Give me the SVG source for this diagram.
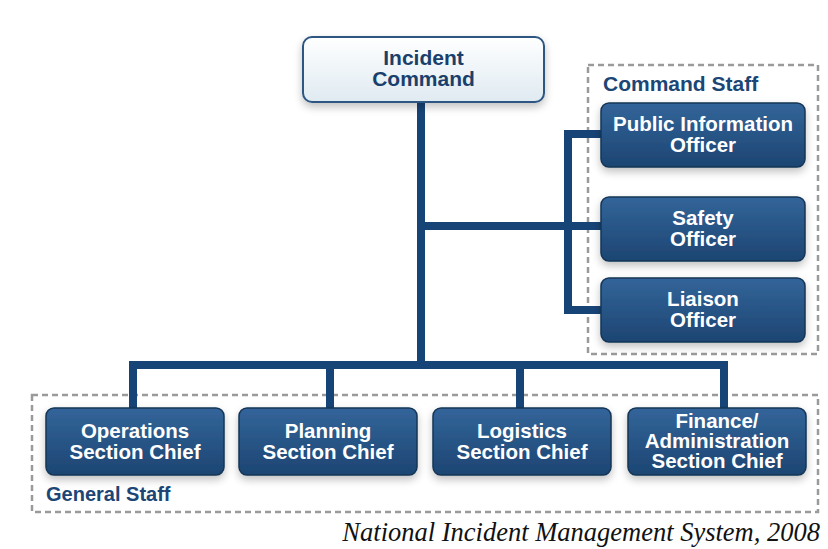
<svg xmlns="http://www.w3.org/2000/svg" width="828" height="549" viewBox="0 0 828 549">
<defs>
<linearGradient id="gBlue" x1="0" y1="0" x2="0" y2="1">
<stop offset="0" stop-color="#33659a"/>
<stop offset="1" stop-color="#1c4572"/>
</linearGradient>
<linearGradient id="gLight" x1="0" y1="0" x2="0" y2="1">
<stop offset="0" stop-color="#ffffff"/>
<stop offset="1" stop-color="#dfeaf1"/>
</linearGradient>
<filter id="sh" x="-20%" y="-20%" width="140%" height="150%">
<feGaussianBlur in="SourceAlpha" stdDeviation="4"/>
<feOffset dx="0" dy="4"/>
<feComponentTransfer><feFuncA type="linear" slope="0.25"/></feComponentTransfer>
<feMerge><feMergeNode/><feMergeNode in="SourceGraphic"/></feMerge>
</filter>
</defs>
<style>
.dark{fill:url(#gBlue);stroke:#163656;stroke-width:1.5;filter:url(#sh)}
.light{fill:url(#gLight);stroke:#2f5682;stroke-width:2;filter:url(#sh)}
.wt{font-family:"Liberation Sans",Arial,sans-serif;font-weight:bold;font-size:20.5px;fill:#ffffff;text-anchor:middle}
.bt{font-family:"Liberation Sans",Arial,sans-serif;font-weight:bold;font-size:21px;fill:#1b3f6b;text-anchor:middle}
.grp{fill:none;stroke:#9a9a9a;stroke-width:2.5;stroke-dasharray:6 4}
.gl{font-family:"Liberation Sans",Arial,sans-serif;font-weight:bold;font-size:20px;fill:#1b4676}
.conn{fill:none;stroke:#174477;stroke-width:8;stroke-linejoin:miter;stroke-linecap:butt}
</style>
<rect width="828" height="549" fill="#ffffff"/>
<g id="command-staff-group">
<rect class="grp" x="588" y="65" width="230" height="289"/>
<text class="gl" x="603" y="91" style="font-size:21px">Command Staff</text>
</g>
<g id="general-staff-group">
<rect class="grp" x="32" y="395" width="786" height="117"/>
<text class="gl" x="46" y="501">General Staff</text>
</g>
<g id="connectors">
<path class="conn" d="M421 101 V369"/>
<path class="conn" d="M421 226 H602"/>
<path class="conn" d="M602 134 H568 V310 H602"/>
<path class="conn" d="M133 408 V365 H724 V408"/>
<path class="conn" d="M330 365 V408"/>
<path class="conn" d="M520 365 V408"/>
</g>
<g id="incident-command">
<rect class="light" x="303" y="37" width="241" height="65" rx="9"/>
<text class="bt" x="423.5" y="65">Incident</text>
<text class="bt" x="423.5" y="86">Command</text>
</g>
<g id="public-information-officer">
<rect class="dark" x="601" y="103" width="204" height="64" rx="8"/>
<text class="wt" x="703" y="131">Public Information</text>
<text class="wt" x="703" y="152">Officer</text>
</g>
<g id="safety-officer">
<rect class="dark" x="601" y="197" width="204" height="64" rx="8"/>
<text class="wt" x="703" y="225">Safety</text>
<text class="wt" x="703" y="246">Officer</text>
</g>
<g id="liaison-officer">
<rect class="dark" x="601" y="278" width="204" height="64" rx="8"/>
<text class="wt" x="703" y="306">Liaison</text>
<text class="wt" x="703" y="327">Officer</text>
</g>
<g id="operations-section-chief">
<rect class="dark" x="46" y="408" width="178" height="67" rx="8"/>
<text class="wt" x="135" y="438">Operations</text>
<text class="wt" x="135" y="459">Section Chief</text>
</g>
<g id="planning-section-chief">
<rect class="dark" x="239" y="408" width="178" height="67" rx="8"/>
<text class="wt" x="328" y="438">Planning</text>
<text class="wt" x="328" y="459">Section Chief</text>
</g>
<g id="logistics-section-chief">
<rect class="dark" x="433" y="408" width="178" height="67" rx="8"/>
<text class="wt" x="522" y="438">Logistics</text>
<text class="wt" x="522" y="459">Section Chief</text>
</g>
<g id="finance-administration-section-chief">
<rect class="dark" x="628" y="408" width="178" height="67" rx="8"/>
<text class="wt" x="717" y="428">Finance/</text>
<text class="wt" x="717" y="448">Administration</text>
<text class="wt" x="717" y="468">Section Chief</text>
</g>
<text x="820" y="541" text-anchor="end" style="font-family:'Liberation Serif','Times New Roman',serif;font-style:italic;font-size:26.5px;fill:#111111">National Incident Management System, 2008</text>
</svg>
